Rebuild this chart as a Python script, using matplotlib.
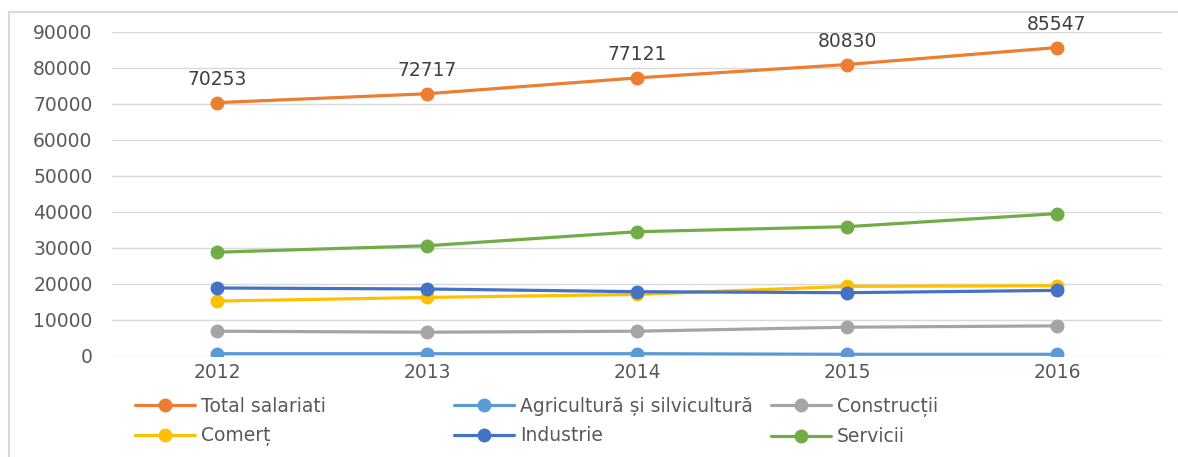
import matplotlib.pyplot as plt
from matplotlib.lines import Line2D

# Data
years = ['2012', '2013', '2014', '2015', '2016']
total_salariati = [70253, 72717, 77121, 80830, 85547]
agricultura = [560, 560, 560, 390, 390]
constructii = [6800, 6530, 6800, 7920, 8280]
comert = [15170, 16180, 17020, 19250, 19440]
industrie = [18800, 18520, 17770, 17490, 18130]
servicii = [28730, 30520, 34420, 35820, 39440]

series_names = ['Total salariati', 'Agricultură și silvicultură', 'Construcții',
                'Comerț', 'Industrie', 'Servicii']
series_values = [total_salariati, agricultura, constructii, comert, industrie, servicii]
colors = ['#ED7D31', '#5B9BD5', '#A5A5A5', '#FFC000', '#4472C4', '#70AD47']

W, H = 1178, 457
fig = plt.figure(figsize=(W / 100, H / 100), dpi=100)
ax = fig.add_axes([112 / W, 1 - 355.7 / H, (1162 - 112) / W, (355.7 - 31.5) / H])

x = list(range(len(years)))
handles = []
for name, vals, col in zip(series_names, series_values, colors):
    h, = ax.plot(x, vals, color=col, lw=2.3, marker='o', ms=9,
                 solid_capstyle='round', label=name)
    handles.append(h)

# Data labels for the total series
for xi, v in zip(x, total_salariati):
    ax.annotate(str(v), (xi, v), xytext=(0, 10), textcoords='offset points',
                ha='center', va='bottom', fontsize=13.5, color='#404040')

ax.set_xlim(-0.5, len(years) - 0.5)
ax.set_ylim(0, 90000)
ax.set_yticks(range(0, 90001, 10000))
ax.set_xticks(x)
ax.set_xticklabels(years)
ax.tick_params(axis='both', length=0, labelsize=13.5, colors='#595959')
ax.tick_params(axis='y', pad=14)
ax.tick_params(axis='x', pad=5)
ax.grid(axis='y', color='#D9D9D9', lw=1)
ax.set_axisbelow(True)
for s in ax.spines.values():
    s.set_visible(False)

# Legend in three columns, placed like the original
col_x = [135, 454, 771]
for i, cx in enumerate(col_x):
    leg = fig.legend(handles=[handles[i], handles[i + 3]], loc='upper left',
                     bbox_to_anchor=(cx / W, 1 - 397 / H), frameon=False,
                     borderpad=0, borderaxespad=0, handlelength=3.2,
                     handletextpad=0.3, labelspacing=0.55, fontsize=13.5)
    for t in leg.get_texts():
        t.set_color('#595959')

# Chart border (left and top edges visible)
fig.add_artist(Line2D([9 / W, 9 / W], [0, 1 - 12 / H], color='#D9D9D9', lw=1.5))
fig.add_artist(Line2D([9 / W, 1], [1 - 12 / H, 1 - 12 / H], color='#D9D9D9', lw=1.5))

fig.savefig('out.png', dpi=100)
